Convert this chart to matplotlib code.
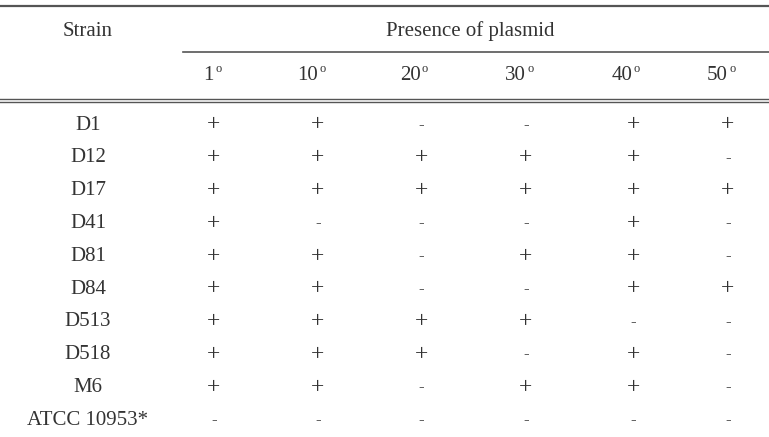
import matplotlib.pyplot as plt

strains = ["D1", "D12", "D17", "D41", "D81", "D84", "D513", "D518", "M6", "ATCC 10953*"]
passages = ["1", "10", "20", "30", "40", "50"]
presence = [
    "++--++",
    "+++++-",
    "++++++",
    "+---+-",
    "++-++-",
    "++--++",
    "++++--",
    "+++-+-",
    "++-++-",
    "------",
]

W, H = 769, 437
col_x = [214, 318, 421, 526, 633, 728]
strain_x = 88
row0, dy = 125, 32.8

fig = plt.figure(figsize=(W / 100, H / 100), dpi=100)
ax = fig.add_axes([0, 0, 1, 1])
ax.set_xlim(0, W)
ax.set_ylim(H, 0)
ax.axis("off")

font = dict(family="Liberation Serif", color="#333333", ha="center", va="center")
fs = 15

ax.plot([0, W], [6, 6], color="#555555", lw=1.6)
ax.plot([183, W], [52, 52], color="#555555", lw=1.2)
ax.plot([0, W], [99, 99], color="#555555", lw=1.0)
ax.plot([0, W], [102, 102], color="#555555", lw=1.0)

ax.text(strain_x, 31, "Strain", fontsize=fs, **font)
ax.text(470, 31, "Presence of plasmid", fontsize=fs, **font)
for x, p in zip(col_x, passages):
    ax.text(x, 75, p, fontsize=fs, **{**font, "ha": "right"})
    ax.text(x + 1, 69, "o", fontsize=9, **{**font, "ha": "left"})

for i, (s, row) in enumerate(zip(strains, presence)):
    y = row0 + i * dy
    ax.text(strain_x, y, s, fontsize=fs, **font)
    for x, c in zip(col_x, row):
        if c == "+":
            ax.text(x, y, "+", fontsize=17, **font)
        else:
            ax.text(x, y, "-", fontsize=12, **font)

fig.savefig("out.png", dpi=100)
